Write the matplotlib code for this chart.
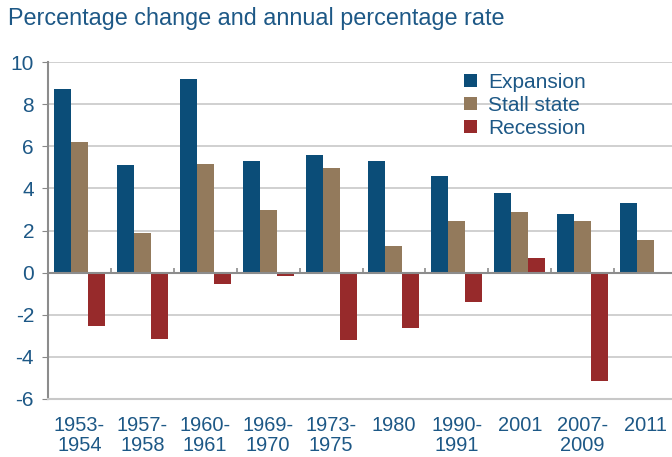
import matplotlib
matplotlib.use("Agg")
import matplotlib.pyplot as plt
import numpy as np

categories = ["1953-\n1954", "1957-\n1958", "1960-\n1961", "1969-\n1970", "1973-\n1975",
              "1980", "1990-\n1991", "2001", "2007-\n2009", "2011"]
expansion = [8.7, 5.1, 9.2, 5.3, 5.6, 5.3, 4.6, 3.8, 2.8, 3.3]
stall = [6.2, 1.9, 5.15, 2.95, 4.95, 1.25, 2.45, 2.9, 2.45, 1.55]
recession = [-2.55, -3.15, -0.55, -0.15, -3.2, -2.65, -1.38, 0.7, -5.15, 0.0]
yticks = [-6, -4, -2, 0, 2, 4, 6, 8, 10]

c_exp = "#0b4d78"
c_stall = "#937a5c"
c_rec = "#972a2b"
txt = "#1d5886"

plt.rcParams['font.family'] = ['Liberation Sans', 'DejaVu Sans']

fig = plt.figure(figsize=(6.72, 4.57), dpi=100)
ax = fig.add_axes([48/672, 58/457, 629/672, 337/457])

x = np.arange(len(categories))
w = 0.27
ax.bar(x - w, expansion, w, color=c_exp, zorder=3, label="Expansion")
ax.bar(x, stall, w, color=c_stall, zorder=3, label="Stall state")
ax.bar(x + w, recession, w, color=c_rec, zorder=3, label="Recession")

ax.set_xlim(-0.5, len(categories) - 0.5)
ax.set_ylim(-6, 10)
ax.set_yticks(yticks)
ax.set_yticklabels([str(v) for v in yticks], fontsize=15, color=txt)
ax.tick_params(axis='y', length=4, color='#888888', pad=6)
ax.grid(axis='y', color='#c8c8c8', linewidth=1.2, zorder=0)

ax.set_xticks([])
for xi, lab in zip(x, categories):
    ax.text(xi, -0.05, lab, transform=ax.get_xaxis_transform(), ha='center', va='top',
            fontsize=14.4, color=txt, linespacing=1.1)

for s in ['top', 'right']:
    ax.spines[s].set_visible(False)
ax.spines['left'].set_color('#8c8c8c')
ax.spines['left'].set_linewidth(1.5)
ax.spines['bottom'].set_color('#c8c8c8')
ax.spines['bottom'].set_linewidth(1.5)

ax.axhline(0, color='#8c8c8c', linewidth=1.5, zorder=4)
bounds = np.arange(len(categories) + 1) - 0.5
ax.vlines(bounds[1:], 0, 0.2, color='#8c8c8c', linewidth=1.2, zorder=4)

leg = ax.legend(loc='upper left', bbox_to_anchor=(0.648, 0.993), frameon=False, fontsize=15,
                handlelength=0.62, handleheight=0.62, handletextpad=0.55, labelspacing=0.2,
                borderaxespad=0)
for t in leg.get_texts():
    t.set_color(txt)

fig.text(8/672, 1 - 19/457, "Percentage change and annual percentage rate", fontsize=16.8,
         color=txt, ha='left', va='center')

fig.savefig("out.png", dpi=100)
